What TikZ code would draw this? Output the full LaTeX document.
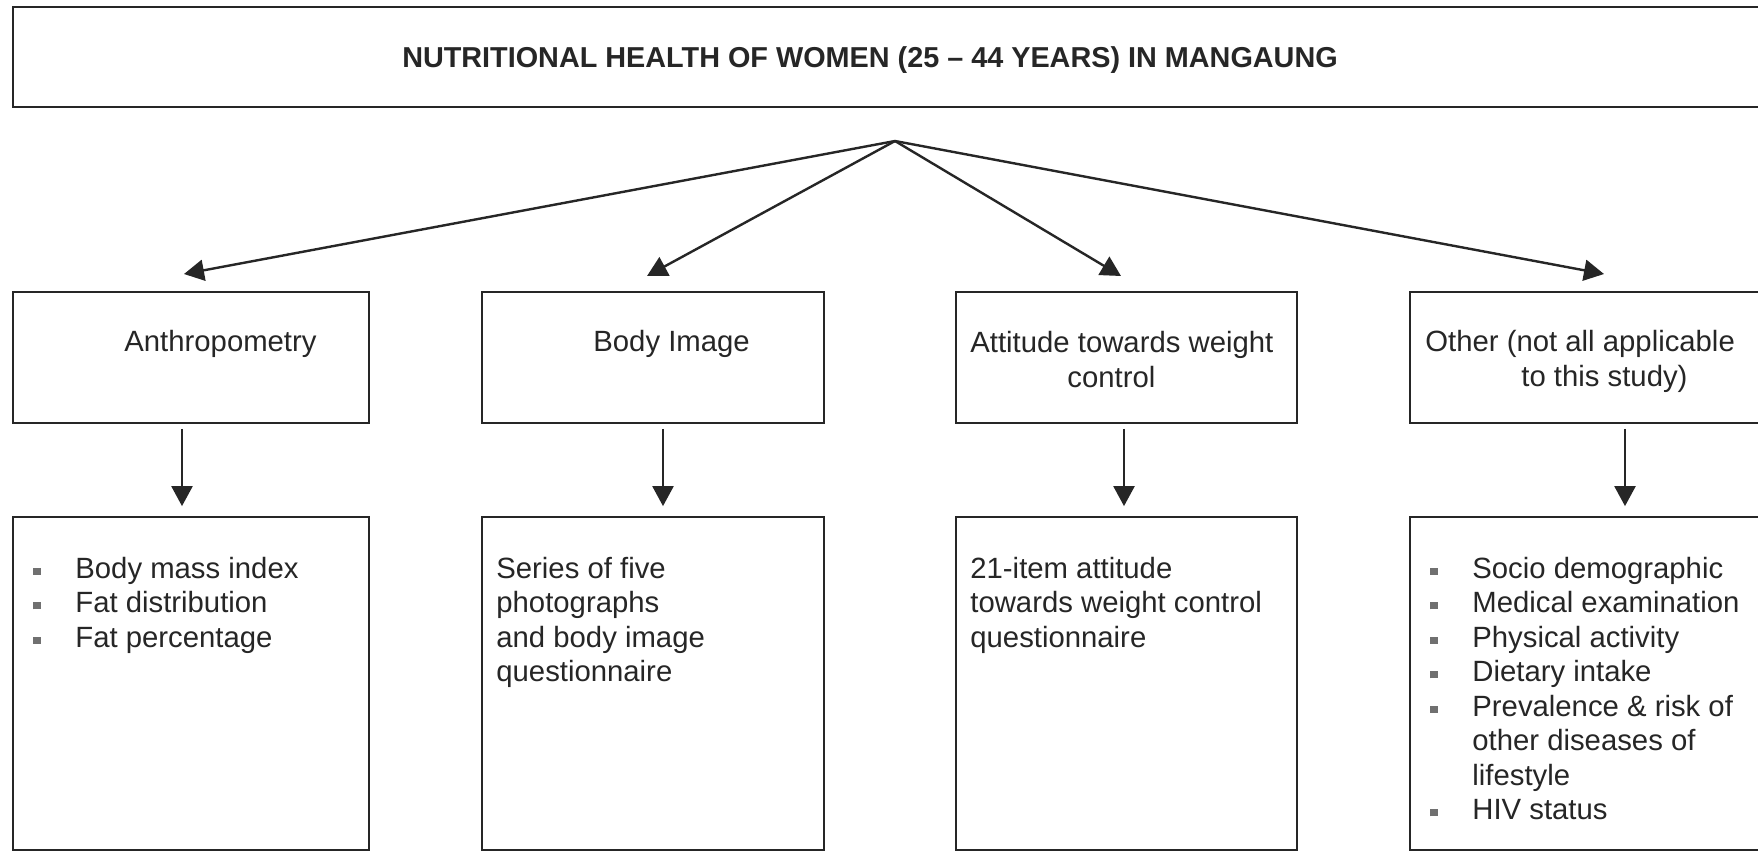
\documentclass[tikz,border=0pt]{standalone}
\usepackage{fontspec}
\setmainfont{Liberation Sans}
\usetikzlibrary{arrows.meta,calc}

\definecolor{inkgray}{HTML}{262626}
\definecolor{bulgray}{HTML}{707070}
\newcommand{\bul}{\textcolor{bulgray}{\rule[1.6pt]{3.6pt}{3.6pt}}}
\newcommand{\itemlist}[1]{\begin{tabular}[t]{@{}p{21pt}@{}l@{}}#1\end{tabular}}

\tikzset{
  box/.style={draw=inkgray, line width=0.9pt, inner sep=0pt},
  txt/.style={inner sep=0pt, anchor=base west, text=inkgray,
    font=\fontsize{14.65}{17.25}\selectfont},
  arr/.style={draw=inkgray, line width=1.2pt, -{Triangle[length=10pt,width=10.5pt]}}
}

\begin{document}
\begin{tikzpicture}[x=0.5pt,y=-0.5pt]
\useasboundingbox (0,0) rectangle (1758,853);
\fill[white] (0,0) rectangle (1758,853);

% top box
\node[box, minimum width=878.5pt, minimum height=50pt] (top) at (891.5,57) {};
\node[txt, anchor=base, font=\bfseries\fontsize{14.4}{17}\selectfont] (title) at (870,67)
  {NUTRITIONAL HEALTH OF WOMEN (25 -- 44 YEARS) IN MANGAUNG};

% draw middle boxes
\node[box, minimum width=178pt, minimum height=65.5pt] (m1) at (191,357.5) {};
\node[box, minimum width=171pt, minimum height=65.5pt] (m2) at (653,357.5) {};
\node[box, minimum width=170.5pt, minimum height=65.5pt] (m3) at (1126.5,357.5) {};
\node[box, minimum width=180pt, minimum height=65.5pt] (m4) at (1590,357.5) {};

\node[txt] (m1t) at (124,351) {Anthropometry};
\node[txt] (m2t) at (593,351) {Body Image};
\node[txt] (m3a) at (970,352) {Attitude towards weight};
\node[txt] (m3b) at (1067,387) {control};
\node[txt] (m4a) at (1425,351) {Other (not all applicable};
\node[txt] (m4b) at (1521,386) {to this study)};

% draw bottom boxes
\node[box, minimum width=178pt, minimum height=166.5pt] (b1) at (191,683.5) {};
\node[box, minimum width=171pt, minimum height=166.5pt] (b2) at (653,683.5) {};
\node[box, minimum width=170.5pt, minimum height=166.5pt] (b3) at (1126.5,683.5) {};
\node[box, minimum width=180pt, minimum height=166.5pt] (b4) at (1590,683.5) {};

\node[txt] (b1t) at (33,578) {\itemlist{%
  \bul & Body mass index\\
  \bul & Fat distribution\\
  \bul & Fat percentage}};
\node[txt] (b2t) at (496,578) {\begin{tabular}[t]{@{}l@{}}
  Series of five\\ photographs\\ and body image\\ questionnaire\end{tabular}};
\node[txt] (b3t) at (970,578) {\begin{tabular}[t]{@{}l@{}}
  21-item attitude\\ towards weight control\\ questionnaire\end{tabular}};
\node[txt] (b4t) at (1430,578) {\itemlist{%
  \bul & Socio demographic\\
  \bul & Medical examination\\
  \bul & Physical activity\\
  \bul & Dietary intake\\
  \bul & Prevalence \& risk of\\
       & other diseases of\\
       & lifestyle\\
  \bul & HIV status}};

% arrows from the top
\coordinate (apex) at (895,141);
\coordinate (t1) at (184,274);
\coordinate (t2) at (647,276);
\coordinate (t3) at (1121,276);
\coordinate (t4) at (1604,274);
\foreach \t in {t1,t2,t3,t4}
\draw[arr] (apex) -- (\t);

% arrows down
\foreach \i/\dx in {1/-9,2/10,3/-2.5,4/35}
\draw[arr] ($(m\i.south)+(\dx,5)$) -- ($(b\i.north)+(\dx,-10)$);

\end{tikzpicture}
\end{document}
